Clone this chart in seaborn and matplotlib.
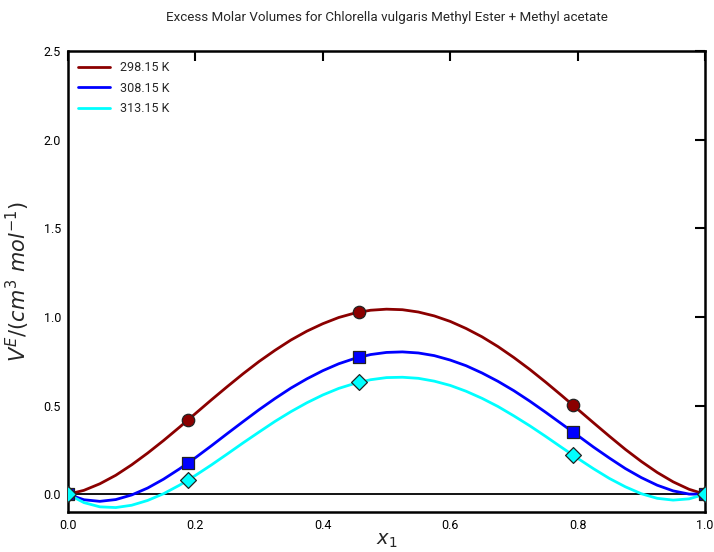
import numpy as np
import pandas as pd
import matplotlib
matplotlib.use("Agg")
import matplotlib.pyplot as plt
import seaborn as sns

# Mole fraction grid for the fitted curves
x_fit = [0.0, 0.025, 0.05, 0.075, 0.1, 0.125, 0.15, 0.175, 0.2, 0.225,
         0.25, 0.275, 0.3, 0.325, 0.35, 0.375, 0.4, 0.425, 0.45, 0.475,
         0.5, 0.525, 0.55, 0.575, 0.6, 0.625, 0.65, 0.675, 0.7, 0.725,
         0.75, 0.775, 0.8, 0.825, 0.85, 0.875, 0.9, 0.925, 0.95, 0.975, 1.0]

# Fitted excess molar volume curves (cm^3 mol^-1)
v_fit_298 = [0.0, 0.022, 0.059, 0.107, 0.166, 0.232, 0.303, 0.378, 0.455, 0.532,
             0.607, 0.680, 0.749, 0.812, 0.870, 0.920, 0.962, 0.997, 1.022, 1.038,
             1.044, 1.041, 1.028, 1.006, 0.975, 0.935, 0.888, 0.833, 0.771, 0.704,
             0.632, 0.557, 0.480, 0.403, 0.327, 0.253, 0.185, 0.123, 0.070, 0.028, 0.0]
v_fit_308 = [0.0, -0.031, -0.040, -0.030, -0.004, 0.035, 0.085, 0.143, 0.206, 0.273,
             0.342, 0.410, 0.477, 0.540, 0.599, 0.651, 0.697, 0.736, 0.766, 0.788,
             0.800, 0.803, 0.797, 0.782, 0.757, 0.725, 0.684, 0.637, 0.584, 0.525,
             0.462, 0.397, 0.332, 0.266, 0.204, 0.145, 0.094, 0.051, 0.019, 0.001, 0.0]
v_fit_313 = [0.0, -0.047, -0.071, -0.075, -0.062, -0.035, 0.003, 0.051, 0.106, 0.165,
             0.227, 0.290, 0.351, 0.411, 0.466, 0.516, 0.560, 0.597, 0.625, 0.646,
             0.658, 0.660, 0.654, 0.638, 0.614, 0.581, 0.541, 0.495, 0.442, 0.386,
             0.326, 0.264, 0.203, 0.144, 0.089, 0.042, 0.003, -0.023, -0.033, -0.026, 0.0]

# Experimental points
x_exp = [0.0, 0.188, 0.457, 0.793, 1.0]
v_exp_298 = [0.0, 0.418, 1.027, 0.502, 0.0]
v_exp_308 = [0.0, 0.175, 0.773, 0.350, 0.0]
v_exp_313 = [0.0, 0.079, 0.632, 0.220, 0.0]

temps = ["298.15 K", "308.15 K", "313.15 K"]
colors = ["#8b0000", "#0000ff", "#00ffff"]
markers = ["o", "s", "D"]
sizes = [80, 80, 65]

sns.set_style("white")
plt.rcParams["font.family"] = ["Roboto", "DejaVu Sans"]
plt.rcParams["mathtext.fontset"] = "dejavusans"

fig = plt.figure(figsize=(7.14, 5.52), dpi=100)
ax = fig.add_axes([0.0952, 0.0725, 0.8922, 0.835])

ax.axhline(0, color="black", lw=1.3, zorder=1)

fits = [v_fit_298, v_fit_308, v_fit_313]
for vals, c, lab in zip(fits, colors, temps):
    df = pd.DataFrame({"x": x_fit, "v": vals})
    sns.lineplot(data=df, x="x", y="v", color=c, lw=2.0, label=lab,
                 sort=False, estimator=None, ax=ax, zorder=2)

exps = [v_exp_298, v_exp_308, v_exp_313]
for vals, c, m, s in zip(exps, colors, markers, sizes):
    df = pd.DataFrame({"x": x_exp, "v": vals})
    sns.scatterplot(data=df, x="x", y="v", color=c, marker=m, s=s,
                    edgecolor="#222222", linewidth=0.9, legend=False,
                    ax=ax, zorder=3)

ax.set_xlim(0, 1.0)
ax.set_ylim(-0.1, 2.5)
ax.set_xticks([0.0, 0.2, 0.4, 0.6, 0.8, 1.0])
ax.set_yticks([0.0, 0.5, 1.0, 1.5, 2.0, 2.5])
ax.set_xticklabels(["0.0", "0.2", "0.4", "0.6", "0.8", "1.0"])
ax.set_yticklabels(["0.0", "0.5", "1.0", "1.5", "2.0", "2.5"])
ax.tick_params(direction="in", length=7, width=1.5, top=True, right=True,
               labelsize=9, pad=5, colors="black")
for sp in ax.spines.values():
    sp.set_visible(True)
    sp.set_linewidth(1.8)
    sp.set_color("black")

ax.set_xlabel("$x_1$", fontsize=14, labelpad=0)
ax.set_ylabel("$V^E/(cm^3\\ mol^{-1})$", fontsize=15, labelpad=8)
ax.set_title("Excess Molar Volumes for Chlorella vulgaris Methyl Ester + Methyl acetate",
             fontsize=9.6, pad=22)

leg = ax.legend(loc="upper left", frameon=False, fontsize=9, handlelength=2.6,
                borderaxespad=0.4, labelspacing=0.6)

fig.savefig("out.png", dpi=100, facecolor="white")
